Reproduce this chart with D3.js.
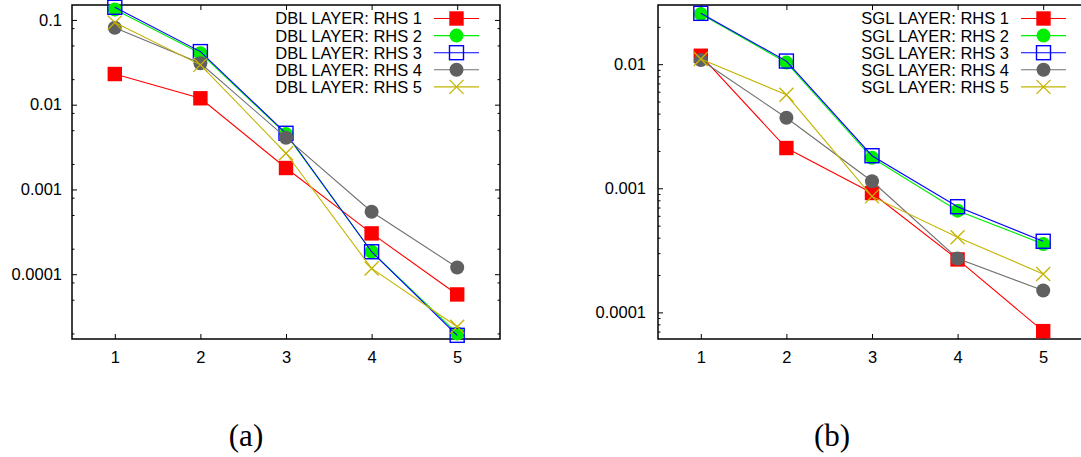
<!DOCTYPE html>
<html>
    <head>
        <meta charset="UTF-8">
        <script src="https://d3js.org/d3.v7.min.js"></script>

        <style>
            body {
                margin: 0;
                background: white;
                font-family: "Liberation Sans", Arial, Helvetica, sans-serif;
            }

            .tick text {
                font-size: 16.5px;
                fill: black;
            }

            .tick line {
                stroke: black;
                stroke-width: 1px;
            }

            .frame {
                fill: none;
                stroke: black;
                stroke-width: 1.5px;
            }

            .legend-label {
                font-size: 16.5px;
                fill: black;
            }

            .caption {
                font-family: "Liberation Serif", "DejaVu Serif", serif;
                font-size: 31px;
                fill: black;
            }
        </style>
    </head>
    <body>
        <svg></svg>

        <script>

            const xValues = [1, 2, 3, 4, 5];
            const rhsNames = ["RHS 1", "RHS 2", "RHS 3", "RHS 4", "RHS 5"];

            // double layer
            const dblRhs1 = [0.023, 0.0119, 0.00179, 0.000303, 0.0000577];
            const dblRhs2 = [0.133, 0.0405, 0.0045, 0.000184, 0.0000200];
            const dblRhs3 = [0.141, 0.0423, 0.0046, 0.000184, 0.0000190];
            const dblRhs4 = [0.081, 0.0308, 0.00408, 0.000546, 0.000120];
            const dblRhs5 = [0.093, 0.0295, 0.00267, 0.000117, 0.0000240];

            // single layer
            const sglRhs1 = [0.0117, 0.00211, 0.000916, 0.000267, 0.0000706];
            const sglRhs2 = [0.0254, 0.0103, 0.00176, 0.00066, 0.000356];
            const sglRhs3 = [0.0257, 0.0106, 0.00183, 0.00071, 0.000374];
            const sglRhs4 = [0.0108, 0.0037, 0.00114, 0.000272, 0.000150];
            const sglRhs5 = [0.0110, 0.00567, 0.00086, 0.000403, 0.000204];

            const dblYTicks = [0.1, 0.01, 0.001, 0.0001];
            const dblYTickLabels = ["0.1", "0.01", "0.001", "0.0001"];
            const sglYTicks = [0.01, 0.001, 0.0001];
            const sglYTickLabels = ["0.01", "0.001", "0.0001"];

            const seriesColors = ["#ff0000", "#00ee00", "#0000ff", "#606060", "#c4b400"];
            const lineColors = ["#ff0000", "#00ee00", "#0000ff", "#707070", "#c4b400"];
            const markerKinds = ["square", "circle", "openSquare", "circle", "cross"];

            const width = 1081, height = 457;

            const svg = d3.select("svg")
                .attr("width", width)
                .attr("height", height);

            svg.append("rect")
                .attr("width", width)
                .attr("height", height)
                .attr("fill", "white");

            function drawMarker (g, kind, color, cx, cy) {
                if (kind === "square") {
                    g.append("rect")
                        .attr("x", cx - 7.2).attr("y", cy - 7.2)
                        .attr("width", 14.4).attr("height", 14.4)
                        .attr("fill", color);
                } else if (kind === "openSquare") {
                    g.append("rect")
                        .attr("x", cx - 7).attr("y", cy - 7)
                        .attr("width", 14).attr("height", 14)
                        .attr("fill", "none")
                        .attr("stroke", color)
                        .attr("stroke-width", 1.4);
                } else if (kind === "circle") {
                    g.append("circle")
                        .attr("cx", cx).attr("cy", cy).attr("r", 7)
                        .attr("fill", color);
                } else {
                    g.append("path")
                        .attr("d", `M${cx-7},${cy-7}L${cx+7},${cy+7}M${cx-7},${cy+7}L${cx+7},${cy-7}`)
                        .attr("stroke", color)
                        .attr("stroke-width", 1.3)
                        .attr("fill", "none");
                }
            }

            function drawPanel (opts) {
                const x = d3.scaleLinear()
                    .domain([0.5, 5.5])
                    .range([opts.left, opts.right]);

                const y = d3.scaleLog()
                    .domain(opts.yDomain)
                    .range([339, 5]);

                const panel = svg.append("g");

                // minor ticks on the log axis
                let minors = [];
                for (let e = -6; e <= 0; e++) {
                    opts.minorSteps.forEach(m => {
                        let v = m * Math.pow(10, e);
                        if (v > opts.yDomain[0] && v < opts.yDomain[1]) minors.push(v);
                    });
                }

                panel.append("g")
                    .attr("transform", `translate(${opts.left},0)`)
                    .call(d3.axisLeft(y).tickValues(minors).tickFormat("").tickSizeInner(-2.5).tickSizeOuter(0))
                    .call(g => g.select(".domain").remove());

                panel.append("g")
                    .attr("transform", `translate(${opts.right},0)`)
                    .call(d3.axisRight(y).tickValues(minors).tickFormat("").tickSizeInner(-2.5).tickSizeOuter(0))
                    .call(g => g.select(".domain").remove());

                // major y ticks
                panel.append("g")
                    .attr("transform", `translate(${opts.left},0)`)
                    .call(d3.axisLeft(y)
                        .tickValues(opts.yTicks)
                        .tickFormat((d, i) => opts.yTickLabels[i])
                        .tickSizeInner(-5)
                        .tickSizeOuter(0)
                        .tickPadding(opts.yPad))
                    .call(g => g.select(".domain").remove());

                panel.append("g")
                    .attr("transform", `translate(${opts.right},0)`)
                    .call(d3.axisRight(y).tickValues(opts.yTicks).tickFormat("").tickSizeInner(-5).tickSizeOuter(0))
                    .call(g => g.select(".domain").remove());

                // x ticks
                panel.append("g")
                    .attr("transform", "translate(0,339)")
                    .call(d3.axisBottom(x)
                        .tickValues(xValues)
                        .tickFormat(d3.format("d"))
                        .tickSizeInner(-5)
                        .tickSizeOuter(0)
                        .tickPadding(12))
                    .call(g => g.select(".domain").remove());

                panel.append("g")
                    .attr("transform", "translate(0,5)")
                    .call(d3.axisTop(x).tickValues(xValues).tickFormat("").tickSizeInner(-5).tickSizeOuter(0))
                    .call(g => g.select(".domain").remove());

                panel.selectAll("g").attr("font-family", null).attr("font-size", null);

                panel.append("rect")
                    .attr("class", "frame")
                    .attr("x", opts.left)
                    .attr("y", 5)
                    .attr("width", opts.right - opts.left)
                    .attr("height", 334);

                // series: drawn in order, line then points
                const line = d3.line()
                    .x((d, i) => x(xValues[i]))
                    .y(d => y(d));

                opts.series.forEach((vals, s) => {
                    const g = panel.append("g");
                    g.append("path")
                        .attr("d", line(vals))
                        .attr("fill", "none")
                        .attr("stroke", lineColors[s])
                        .attr("stroke-width", 1.1);
                    vals.forEach((v, i) => drawMarker(g, markerKinds[s], seriesColors[s], x(xValues[i]), y(v)));
                });

                // legend
                const legend = panel.append("g");
                rhsNames.forEach((name, s) => {
                    const cy = 18.5 + s * 17.1;
                    legend.append("text")
                        .attr("class", "legend-label")
                        .attr("x", opts.legendTextX)
                        .attr("y", cy)
                        .attr("dy", "0.36em")
                        .attr("text-anchor", "end")
                        .text(opts.prefix + " LAYER: " + name);
                    legend.append("line")
                        .attr("x1", opts.legendLineX)
                        .attr("x2", opts.legendLineX + 45)
                        .attr("y1", cy)
                        .attr("y2", cy)
                        .attr("stroke", lineColors[s])
                        .attr("stroke-width", 1.1);
                    drawMarker(legend, markerKinds[s], seriesColors[s], opts.legendLineX + 22.5, cy);
                });

                svg.append("text")
                    .attr("class", "caption")
                    .attr("x", opts.captionX)
                    .attr("y", 446)
                    .attr("text-anchor", "middle")
                    .text(opts.caption);
            }

            drawPanel({
                left: 72,
                right: 500,
                yDomain: [1.72e-5, 0.15],
                yTicks: dblYTicks,
                yTickLabels: dblYTickLabels,
                minorSteps: [2, 5, 8],
                yPad: 10,
                series: [dblRhs1, dblRhs2, dblRhs3, dblRhs4, dblRhs5],
                prefix: "DBL",
                legendTextX: 422,
                legendLineX: 434,
                caption: "(a)",
                captionX: 246
            });

            drawPanel({
                left: 658,
                right: 1086,
                yDomain: [6.1e-5, 0.03],
                yTicks: sglYTicks,
                yTickLabels: sglYTickLabels,
                minorSteps: [2, 3, 4, 5, 6, 7, 8, 9],
                yPad: 12,
                series: [sglRhs1, sglRhs2, sglRhs3, sglRhs4, sglRhs5],
                prefix: "SGL",
                legendTextX: 1009,
                legendLineX: 1021,
                caption: "(b)",
                captionX: 832
            });

        </script>
    </body>
</html>
